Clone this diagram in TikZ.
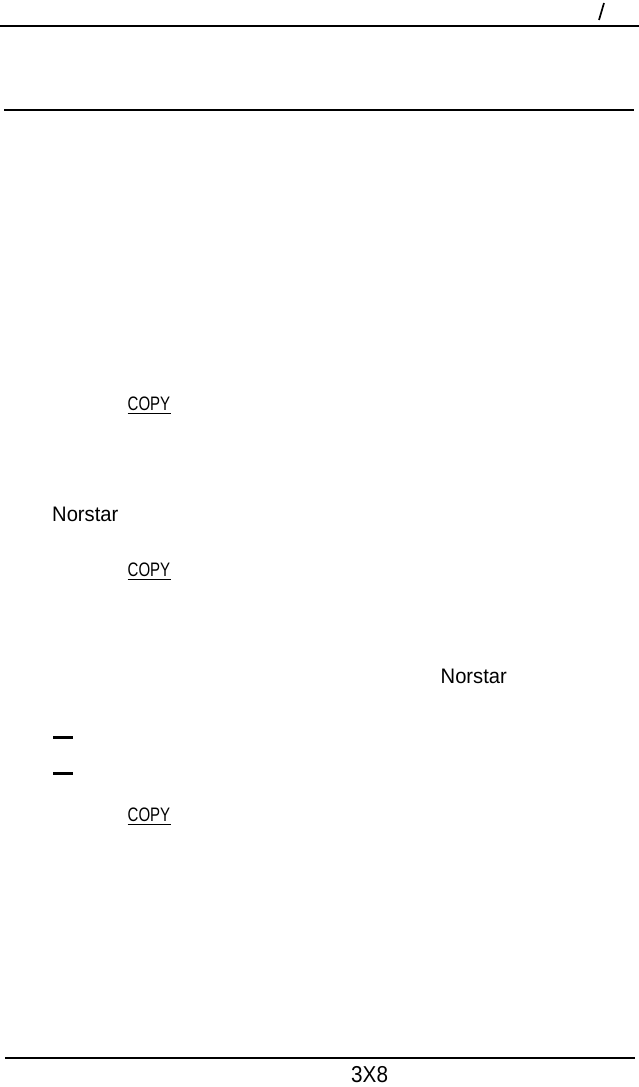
\documentclass[tikz,border=0pt]{standalone}
\usepackage{fontspec}
\setmainfont{Liberation Sans}
\newcommand{\narrowcopy}{\scalebox{0.77}[1]{COPY}}
\newcommand{\narrownorstar}{\scalebox{0.96}[1]{Norstar}}
\newcommand{\narrowpage}{\scalebox{0.9}[1]{3X8}}
\begin{document}
\begin{tikzpicture}[x=1pt,y=-1pt,
  rule/.style={line width=1.3pt},
  big/.style={inner sep=0pt,anchor=base west,font=\fontsize{21}{23}\selectfont},
  pagenum/.style={inner sep=0pt,anchor=base west,font=\fontsize{23}{25}\selectfont},
  copytxt/.style={inner sep=0pt,anchor=base west,font=\fontsize{19.5}{21}\selectfont},
  uline/.style={line width=1pt},
  dashmark/.style={line width=3pt}]
\useasboundingbox (0,0) rectangle (639,1087);
% slash at top right
\draw[line width=1.7pt] (604,3) -- (599,20);
% rules
\draw[rule] (0,26) -- (639,26);
\draw[rule] (4,110) -- (634,110);
\draw[rule] (5,1058) -- (635,1058);
% texts
\node[copytxt] (c1) at (127.5,410) {\narrowcopy};
\draw[uline] (c1.south west) ++(0,3) -- ++(43,0);
\node[big] (n1) at (52,521) {\narrownorstar};
\node[copytxt] (c2) at (127.5,576) {\narrowcopy};
\draw[uline] (c2.south west) ++(0,3) -- ++(43,0);
\node[big] (n2) at (440.5,683) {\narrownorstar};
\draw[dashmark] (53,737) -- (73,737);
\draw[dashmark] (53,773) -- (73,773);
\node[copytxt] (c3) at (127.5,821) {\narrowcopy};
\draw[uline] (c3.south west) ++(0,3) -- ++(43,0);
\node[pagenum] (pg) at (351,1082) {\narrowpage};
\end{tikzpicture}
\end{document}
